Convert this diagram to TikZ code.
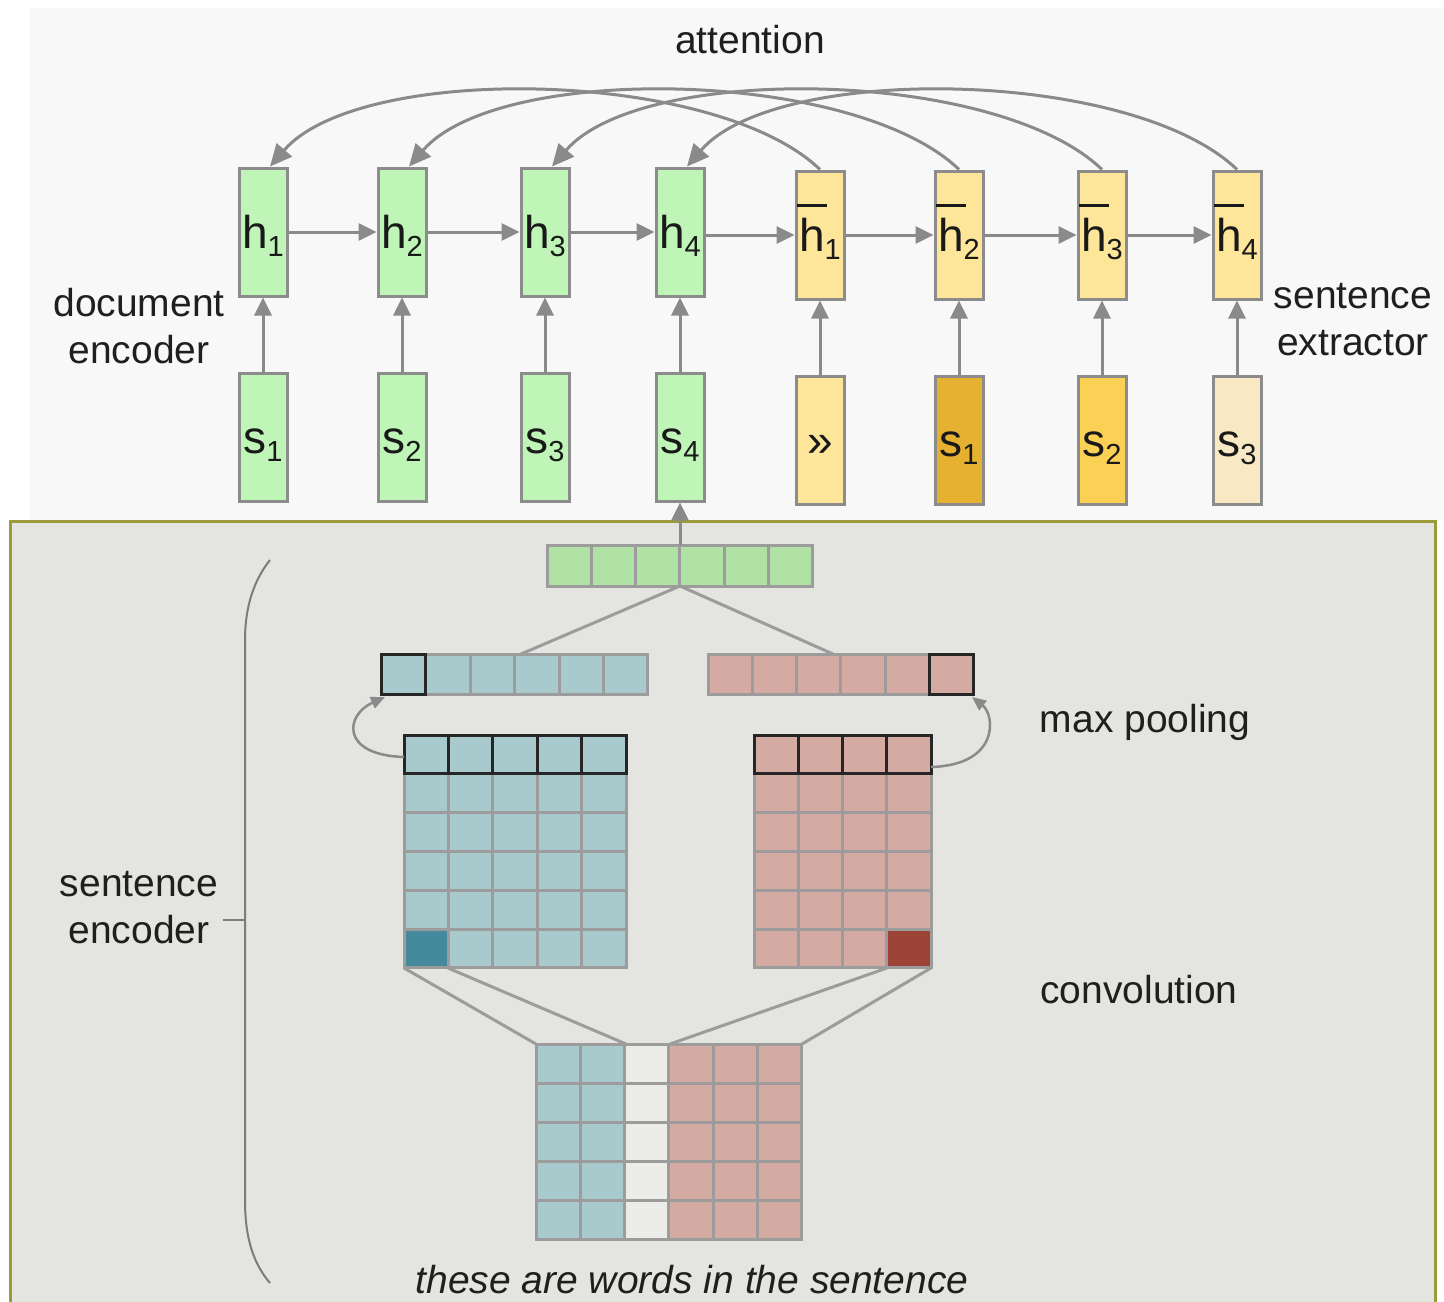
\documentclass[tikz,border=0pt]{standalone}
\usepackage{fontspec}
\setmainfont{Liberation Sans}
\usetikzlibrary{arrows.meta,calc}
\definecolor{topbg}{HTML}{F8F8F8}
\definecolor{panelbg}{HTML}{E4E4E0}
\definecolor{olive}{HTML}{9B9B3A}
\definecolor{boxline}{HTML}{8C8C8C}
\definecolor{arrowc}{HTML}{8A8A8A}
\definecolor{gridc}{HTML}{9C9C9C}
\definecolor{gfill}{HTML}{C0F5B8}
\definecolor{yfill}{HTML}{FDE59A}
\definecolor{ydark}{HTML}{E6B030}
\definecolor{ymid}{HTML}{FBD155}
\definecolor{ylight}{HTML}{F8E8C3}
\definecolor{vecg}{HTML}{B0E2A6}
\definecolor{bluec}{HTML}{A9CACD}
\definecolor{redc}{HTML}{D3ABA3}
\definecolor{bluedark}{HTML}{458A9C}
\definecolor{reddark}{HTML}{9C4236}
\definecolor{blankc}{HTML}{ECECE9}
\definecolor{bracec}{HTML}{7C7C7C}
\newcommand\subx[1]{\raisebox{-8pt}{\fontsize{29}{29}\selectfont #1}}
\newcommand\ovl[1]{\rlap{\hspace{-2pt}\smash{\rule[44pt]{30pt}{3pt}}}#1}
\begin{document}
\begin{tikzpicture}[x=1pt,y=-1pt,
  cellbox/.style={draw=boxline, line width=3pt, minimum width=48pt, minimum height=128pt,
    inner sep=0pt, text height=40pt, text depth=8pt, font=\fontsize{46}{46}\selectfont, text=black!90},
  gbox/.style={cellbox, fill=gfill},
  ybox/.style={cellbox, fill=yfill},
  arr/.style={-{Triangle[length=18pt,width=17pt]}, line width=3pt, draw=arrowc},
  attarr/.style={-{Triangle[length=22pt,width=20pt]}, line width=3pt, draw=arrowc},
  smallarr/.style={-{Triangle[length=14pt,width=12pt]}, line width=2.5pt, draw=arrowc},
  conn/.style={line width=3pt, draw=gridc},
  lab/.style={font=\fontsize{39}{47}\selectfont, align=center, text=black!88},
  cellst/.style={draw=gridc, line width=3pt},
  blackcell/.style={draw=black!85, line width=3pt}
]
\useasboundingbox (0,0) rectangle (1444,1302);
% backgrounds
\fill[topbg] (30,8) rectangle (1444,521);
\fill[panelbg] (10,521) rectangle (1435,1302);
\draw[olive, line width=3pt] (10,1302) -- (10,521) -- (1435,521) -- (1435,1302);

% upper network
\node[gbox] (h1) at (263,232) {h\subx{1}};
\node[gbox] (h2) at (402,232) {h\subx{2}};
\node[gbox] (h3) at (545,232) {h\subx{3}};
\node[gbox] (h4) at (680,232) {h\subx{4}};
\node[ybox] (hb1) at (820,235) {\ovl{h}\subx{1}};
\node[ybox] (hb2) at (959,235) {\ovl{h}\subx{2}};
\node[ybox] (hb3) at (1102,235) {\ovl{h}\subx{3}};
\node[ybox] (hb4) at (1237,235) {\ovl{h}\subx{4}};

\node[gbox] (s1) at (263,437) {s\subx{1}};
\node[gbox] (s2) at (402,437) {s\subx{2}};
\node[gbox] (s3) at (545,437) {s\subx{3}};
\node[gbox] (s4) at (680,437) {s\subx{4}};
\node[ybox] (go) at (820,440) {»};
\node[cellbox, fill=ydark] (e1) at (959,440) {s\subx{1}};
\node[cellbox, fill=ymid] (e2) at (1102,440) {s\subx{2}};
\node[cellbox, fill=ylight] (e3) at (1237,440) {s\subx{3}};

\foreach \a/\b in {s1/h1,s2/h2,s3/h3,s4/h4,go/hb1,e1/hb2,e2/hb3,e3/hb4}
  \draw[arr] (\a.north) -- (\b.south);
\foreach \a/\b in {h1/h2,h2/h3,h3/h4,hb1/hb2,hb2/hb3,hb3/hb4}
  \draw[arr] (\a.east) -- (\b.west);
\draw[arr] ($(h4.east)+(0,3)$) -- (hb1.west);
\foreach \a/\b in {hb1/h1,hb2/h2,hb3/h3,hb4/h4}
  \draw[attarr] (\a.north) .. controls +(-105,-101) and +(90,-104) .. ($(\b.north)+(7,0)$);

\node[lab] (attn) at (750,40) {attention};
\node[lab] (docenc) at (139,326) {document\\encoder};
\node[lab] (sentext) at (1353,320) {sentence\\extractor};

% sentence encoder
% sentence vector
\foreach \i in {0,...,5}
  \draw[cellst, fill=vecg] (547+\i*44.33,545) rectangle ++(44.33,41);
\coordinate (vtop) at (680,545);
\coordinate (vbot) at (680,586);
\draw[arr] (vtop) -- (s4.south);

% pooled vectors
\foreach \i in {0,...,5}
  \draw[cellst, fill=bluec] (381.5+\i*44.4,654) rectangle ++(44.4,40);
\draw[blackcell] (381.5,654) rectangle ++(44.4,40);
\foreach \i in {0,...,5}
  \draw[cellst, fill=redc] (708+\i*44.33,654) rectangle ++(44.33,40);
\draw[blackcell] (708+5*44.33,654) rectangle ++(44.33,40);
\coordinate (bluetop) at (521,654);
\coordinate (redtop) at (833,654);
\draw[conn] (vbot) -- (bluetop);
\draw[conn] (vbot) -- (redtop);

% convolution matrices
\foreach \r in {0,...,5}
  \foreach \c in {0,...,4}
    \draw[cellst, fill=bluec] (404+\c*44.4,735+\r*38.83) rectangle ++(44.4,38.83);
\draw[cellst, fill=bluedark] (404,735+5*38.83) rectangle ++(44.4,38.83);
\foreach \c in {0,...,4}
  \draw[blackcell] (404+\c*44.4,735) rectangle ++(44.4,38.83);
\foreach \r in {0,...,5}
  \foreach \c in {0,...,3}
    \draw[cellst, fill=redc] (754+\c*44.25,735+\r*38.83) rectangle ++(44.25,38.83);
\draw[cellst, fill=reddark] (754+3*44.25,735+5*38.83) rectangle ++(44.25,38.83);
\foreach \c in {0,...,3}
  \draw[blackcell] (754+\c*44.25,735) rectangle ++(44.25,38.83);

% max pooling arrows
\coordinate (bmaxs) at (404,757);
\coordinate (bmaxe) at (385,697);
\coordinate (rmaxs) at (931,767);
\coordinate (rmaxe) at (972,697);
\draw[smallarr] (bmaxs) .. controls (340,755) and (345,715) .. (bmaxe);
\draw[smallarr] (rmaxs) .. controls (1000,765) and (995,715) .. (rmaxe);

% word matrix
\foreach \r in {0,...,4}{
  \foreach \c in {0,1}
    \draw[cellst, fill=bluec] (536+\c*44.33,1044+\r*39) rectangle ++(44.33,39);
  \draw[cellst, fill=blankc] (536+2*44.33,1044+\r*39) rectangle ++(44.33,39);
  \foreach \c in {3,4,5}
    \draw[cellst, fill=redc] (536+\c*44.33,1044+\r*39) rectangle ++(44.33,39);
}
\coordinate (bc1) at (404,968);
\coordinate (bc2) at (448,968);
\coordinate (rc1) at (887,968);
\coordinate (rc2) at (931,968);
\coordinate (w1) at (536,1044);
\coordinate (w2) at (626,1044);
\coordinate (w3) at (670,1044);
\coordinate (w4) at (802,1044);
\draw[conn] (bc1) -- (w1);
\draw[conn] (bc2) -- (w2);
\draw[conn] (rc1) -- (w3);
\draw[conn] (rc2) -- (w4);

% brace
\draw[bracec, line width=2pt] (270,560) .. controls (250,585) and (245,615) .. (245,640) -- (245,1200) .. controls (245,1230) and (250,1260) .. (270,1283);
\draw[bracec, line width=2pt] (223,920) -- (245,920);

\node[lab] (senenc) at (139,908) {sentence\\encoder};
\node[lab] (maxp) at (1145,722) {max pooling};
\node[lab] (conv) at (1139,990) {convolution};
\node[lab, font=\fontsize{39}{47}\selectfont\itshape] (words) at (692,1280) {these are words in the sentence};
\end{tikzpicture}
\end{document}
